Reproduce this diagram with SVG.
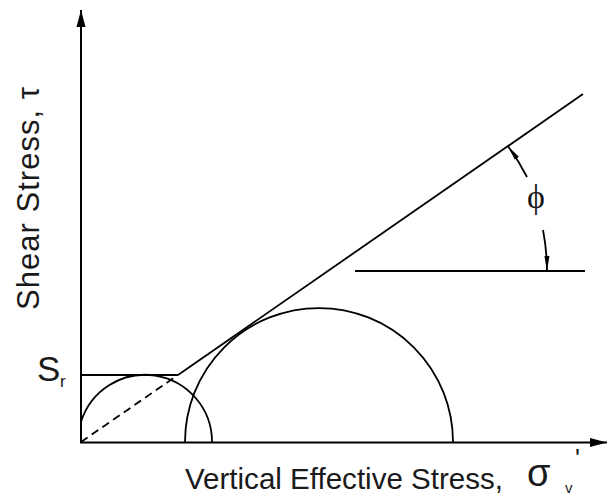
<svg xmlns="http://www.w3.org/2000/svg" width="608" height="496" viewBox="0 0 608 496">
<style>
.ln{fill:none;stroke:#000;stroke-width:1.8}
.ax{fill:none;stroke:#000;stroke-width:2}
.t{font-family:"Liberation Sans",Arial,sans-serif;fill:#1a1a1a}
.s{font-family:"Liberation Serif","Times New Roman",serif;fill:#1a1a1a}
</style>
<defs>
<marker id="axh" markerUnits="userSpaceOnUse" markerWidth="18" markerHeight="10" refX="17" refY="5" orient="auto">
<path d="M0,0.5 L17,5 L0,9.5 Z" fill="#000"/>
</marker>
<marker id="arc" markerUnits="userSpaceOnUse" markerWidth="16" markerHeight="8" refX="15" refY="4" orient="auto">
<path d="M0,1.5 L15,4 L0,6.5 Z" fill="#000"/>
</marker>
</defs>
<rect width="608" height="496" fill="#fff"/>
<g id="connectors">
<line id="y-axis" class="ax" x1="81" y1="443" x2="81" y2="10" marker-end="url(#axh)"/>
<line id="x-axis" class="ax" x1="80" y1="442.5" x2="607" y2="442.5" marker-end="url(#axh)"/>
<line id="dashed" class="ln" x1="81" y1="442" x2="178" y2="375" stroke-dasharray="8 5"/>
<line id="envelope" class="ln" x1="178" y1="375" x2="583" y2="94"/>
<line id="sr-line" class="ln" x1="81" y1="375" x2="178" y2="375"/>
<line id="horiz" class="ln" x1="355" y1="271" x2="585" y2="271"/>
<path id="phi-arc-up" class="ln" d="M527,177 A219,219 0 0 0 508,146.3" marker-end="url(#arc)"/>
<path id="phi-arc-down" class="ln" d="M543,230 A219,219 0 0 1 547,271" marker-end="url(#arc)"/>
</g>
<g id="small-circle"><path class="ln" d="M81,422 A67,67 0 0 1 212,442"/></g>
<g id="large-circle"><path class="ln" d="M185,442 A134,134 0 0 1 453,442"/></g>
<g id="y-label"><text class="t" font-size="31" transform="translate(39,310) rotate(-90)" textLength="223">Shear Stress,  τ</text></g>
<g id="x-label">
<text class="t" font-size="30" x="185" y="489" textLength="318" lengthAdjust="spacingAndGlyphs">Vertical Effective Stress,</text>
<text class="t" font-size="38" x="527" y="486">σ</text>
<text class="t" font-size="15" x="565" y="493">v</text>
<text class="t" font-size="26" x="575" y="467">'</text>
</g>
<g id="sr-label"><text class="t" font-size="35" x="37" y="381">S</text><text class="t" font-size="17" x="60" y="387">r</text></g>
<g id="phi-label"><text class="s" font-size="34" x="536" y="208" text-anchor="middle">ϕ</text></g>
</svg>
